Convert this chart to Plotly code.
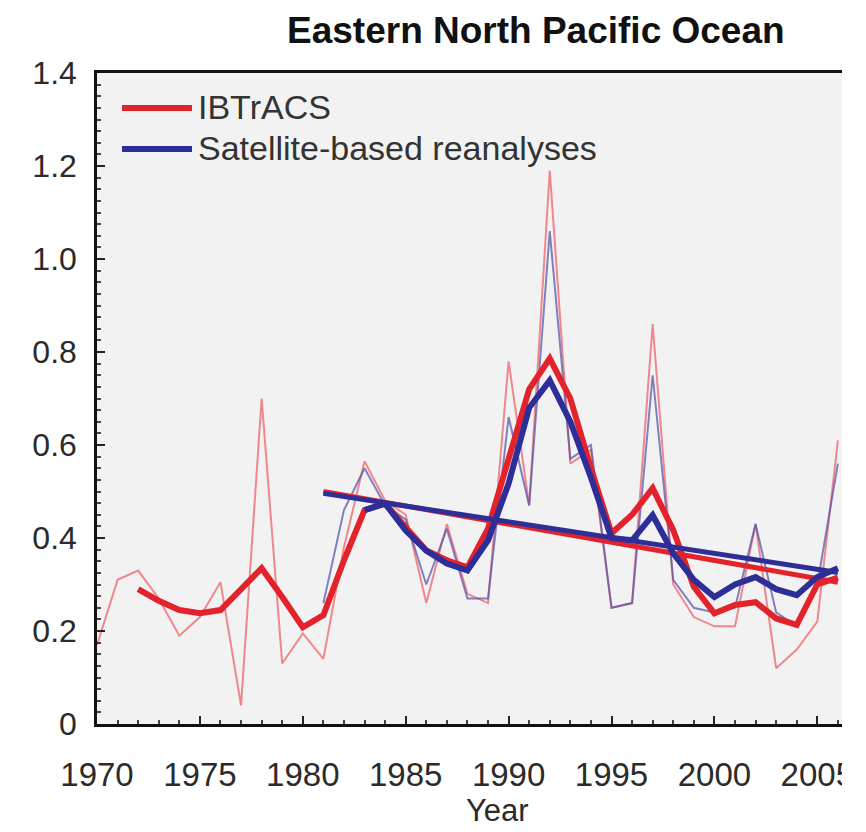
import plotly.graph_objects as go

# ---------------- data ----------------
years = list(range(1970, 2007))
ibtracs_annual = [0.17, 0.31, 0.33, 0.27, 0.19, 0.23, 0.305, 0.04, 0.70, 0.13,
                  0.195, 0.14, 0.38, 0.565, 0.48, 0.45, 0.26, 0.43, 0.28, 0.26,
                  0.78, 0.47, 1.19, 0.56, 0.59, 0.25, 0.26, 0.86, 0.30, 0.23,
                  0.21, 0.21, 0.43, 0.12, 0.16, 0.22, 0.61]

sat_years = list(range(1981, 2007))
sat_annual = [0.26, 0.46, 0.55, 0.47, 0.44, 0.30, 0.42, 0.27, 0.27, 0.66,
              0.47, 1.06, 0.57, 0.60, 0.25, 0.26, 0.75, 0.31, 0.25, 0.24,
              0.25, 0.43, 0.24, 0.21, 0.30, 0.56]

ibtracs_smooth_years = list(range(1972, 2007))
ibtracs_smooth = [0.29, 0.265, 0.245, 0.238, 0.245, 0.29, 0.335, 0.273, 0.208, 0.234,
                  0.352, 0.46, 0.474, 0.423, 0.373, 0.352, 0.337, 0.42, 0.57, 0.72,
                  0.786, 0.70, 0.55, 0.41, 0.45, 0.507, 0.417, 0.295, 0.238, 0.256,
                  0.262, 0.227, 0.213, 0.30, 0.315]

sat_smooth_years = list(range(1983, 2007))
sat_smooth = [0.46, 0.474, 0.416, 0.373, 0.345, 0.33, 0.395, 0.517, 0.68, 0.739,
              0.65, 0.53, 0.40, 0.395, 0.449, 0.367, 0.31, 0.273, 0.30, 0.316,
              0.29, 0.277, 0.316, 0.335]

trend_years = [1981, 2006]
ibtracs_trend = [0.50, 0.305]
sat_trend = [0.496, 0.326]

x_tick_vals = [1970, 1975, 1980, 1985, 1990, 1995, 2000, 2005]
y_tick_vals = [0, 0.2, 0.4, 0.6, 0.8, 1.0, 1.2, 1.4]
y_tick_text = ["0", "0.2", "0.4", "0.6", "0.8", "1.0", "1.2", "1.4"]

title_text = "<b>Eastern North Pacific Ocean</b>"
x_title = "Year"
legend_names = ["IBTrACS", "Satellite-based reanalyses"]

# ---------------- styles ----------------
RED = "#e3232b"
BLUE = "#2e2e98"
RED_THIN = "rgba(238,100,106,0.75)"
BLUE_THIN = "rgba(80,80,170,0.7)"
FONT = "Liberation Sans, Arial, sans-serif"
TXT = "#2b2b2b"

fig = go.Figure()
fig.add_trace(go.Scatter(x=years, y=ibtracs_annual, mode="lines",
                         line=dict(color=RED_THIN, width=2), showlegend=False))
fig.add_trace(go.Scatter(x=sat_years, y=sat_annual, mode="lines",
                         line=dict(color=BLUE_THIN, width=2), showlegend=False))
fig.add_trace(go.Scatter(x=ibtracs_smooth_years, y=ibtracs_smooth, mode="lines",
                         line=dict(color=RED, width=6), showlegend=False))
fig.add_trace(go.Scatter(x=trend_years, y=ibtracs_trend, mode="lines",
                         line=dict(color=RED, width=5), showlegend=False))
fig.add_trace(go.Scatter(x=sat_smooth_years, y=sat_smooth, mode="lines",
                         line=dict(color=BLUE, width=6), showlegend=False))
fig.add_trace(go.Scatter(x=trend_years, y=sat_trend, mode="lines",
                         line=dict(color=BLUE, width=5), showlegend=False))

# the page body has an 8px margin, so the figure is drawn at (8, 8)
OFF = 8
W, H = 850, 824
L, T = 89, 65
pw, ph = 745, 651
R, B = W - L - pw, H - T - ph


def px(xs):
    # screen x -> paper x
    return (xs - OFF - L) / pw


def py(ys):
    # screen y -> paper y
    return (T + ph - (ys - OFF)) / ph


shapes = [
    # manual legend samples
    dict(type="line", xref="paper", yref="paper", x0=px(122), x1=px(192),
         y0=py(108), y1=py(108), line=dict(color=RED, width=6)),
    dict(type="line", xref="paper", yref="paper", x0=px(122), x1=px(192),
         y0=py(149), y1=py(149), line=dict(color=BLUE, width=6)),
    # white strip: the original picture is cropped on the right
    dict(type="rect", xref="paper", yref="paper", x0=1.0, x1=1.2, y0=-0.5, y1=1.5,
         fillcolor="white", line=dict(width=0), layer="above"),
]

annotations = [
    dict(text=title_text, xref="paper", yref="paper", x=px(536), y=py(30),
         xanchor="center", yanchor="middle", showarrow=False,
         font=dict(family=FONT, size=37, color="#111")),
    dict(text=x_title, xref="paper", yref="paper", x=px(497), y=py(810),
         xanchor="center", yanchor="middle", showarrow=False,
         font=dict(family=FONT, size=31, color=TXT)),
    dict(text=legend_names[0], xref="paper", yref="paper", x=px(196), y=py(107),
         xanchor="left", yanchor="middle", showarrow=False,
         font=dict(family=FONT, size=34, color="#333")),
    dict(text=legend_names[1], xref="paper", yref="paper", x=px(196), y=py(148),
         xanchor="left", yanchor="middle", showarrow=False,
         font=dict(family=FONT, size=34, color="#333")),
]

fig.update_layout(
    width=W, height=H, autosize=False,
    margin=dict(l=L, r=R, t=T, b=B, pad=0),
    paper_bgcolor="white", plot_bgcolor="#f2f2f2",
    showlegend=False,
    shapes=shapes, annotations=annotations,
    font=dict(family=FONT, color=TXT),
)
fig.update_xaxes(
    range=[1970, 2006.2], tickvals=x_tick_vals, showgrid=False, zeroline=False,
    automargin=False,
    showline=True, linecolor="#111", linewidth=2.5, mirror=True,
    ticks="inside", ticklen=8, tickwidth=1.5, tickcolor="#222",
    tickfont=dict(family=FONT, size=33, color=TXT), ticklabelstandoff=20,
    minor=dict(ticks="inside", ticklen=4, dtick=1, tickcolor="#444", showgrid=False),
)
fig.update_yaxes(
    range=[0, 1.4], tickvals=y_tick_vals, ticktext=y_tick_text, showgrid=False,
    zeroline=False, automargin=False, showline=True, linecolor="#111", linewidth=2.5,
    ticks="inside", ticklen=8, tickwidth=1.5, tickcolor="#222",
    tickfont=dict(family=FONT, size=32, color=TXT), ticklabelstandoff=11,
    minor=dict(ticks="inside", ticklen=4, dtick=0.025, tickcolor="#444", showgrid=False),
)

fig.write_html("out.html")
